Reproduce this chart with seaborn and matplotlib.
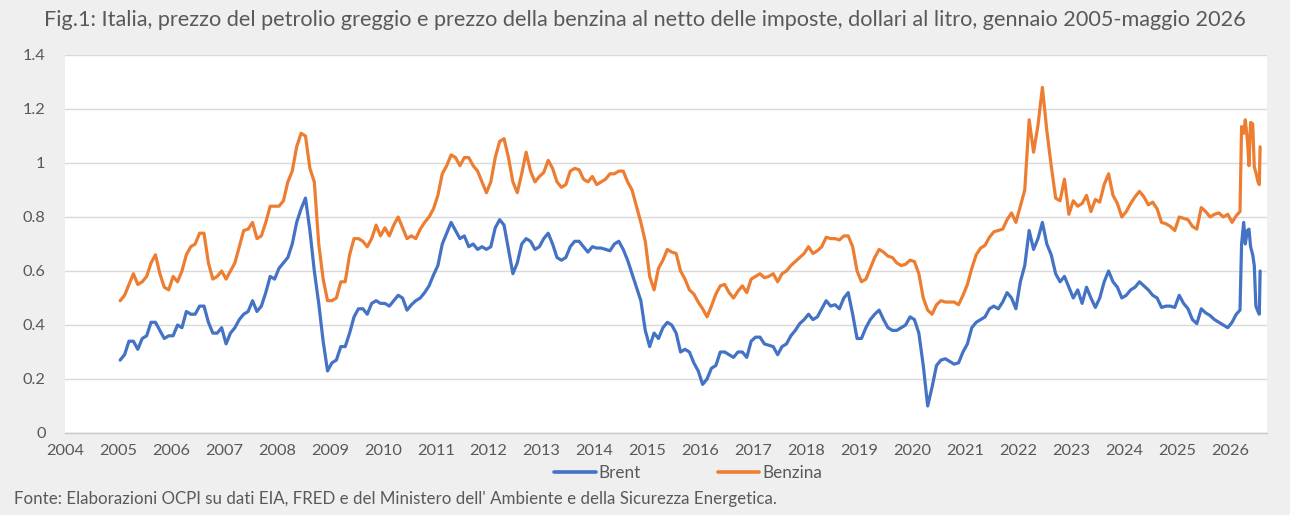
import numpy as np
import pandas as pd
import matplotlib
matplotlib.use("Agg")
import matplotlib.pyplot as plt
from matplotlib.lines import Line2D
import seaborn as sns

# monthly values (dollars per litre), Jan 2005 - Dec 2025
years = list(range(2005, 2026))

brent = [
    0.27, 0.29, 0.34, 0.34, 0.31, 0.35, 0.36, 0.41, 0.41, 0.38, 0.35, 0.36,  # 2005
    0.36, 0.40, 0.39, 0.45, 0.44, 0.44, 0.47, 0.47, 0.41, 0.37, 0.37, 0.39,  # 2006
    0.33, 0.37, 0.39, 0.42, 0.44, 0.45, 0.49, 0.45, 0.47, 0.52, 0.58, 0.57,  # 2007
    0.61, 0.63, 0.65, 0.70, 0.78, 0.83, 0.87, 0.75, 0.60, 0.48, 0.34, 0.23,  # 2008
    0.26, 0.27, 0.32, 0.32, 0.37, 0.43, 0.46, 0.46, 0.44, 0.48, 0.49, 0.48,  # 2009
    0.48, 0.47, 0.49, 0.51, 0.50, 0.455, 0.475, 0.49, 0.50, 0.52, 0.545, 0.585,  # 2010
    0.62, 0.70, 0.74, 0.78, 0.75, 0.72, 0.73, 0.69, 0.70, 0.68, 0.69, 0.68,  # 2011
    0.69, 0.76, 0.79, 0.77, 0.68, 0.59, 0.63, 0.70, 0.72, 0.71, 0.68, 0.69,  # 2012
    0.72, 0.74, 0.70, 0.65, 0.64, 0.65, 0.69, 0.71, 0.71, 0.69, 0.67, 0.69,  # 2013
    0.685, 0.685, 0.68, 0.675, 0.70, 0.71, 0.68, 0.64, 0.59, 0.54, 0.49, 0.38,  # 2014
    0.32, 0.37, 0.35, 0.39, 0.41, 0.40, 0.37, 0.30, 0.31, 0.30, 0.26, 0.23,  # 2015
    0.18, 0.20, 0.24, 0.25, 0.30, 0.30, 0.29, 0.28, 0.30, 0.30, 0.28, 0.34,  # 2016
    0.355, 0.355, 0.33, 0.325, 0.32, 0.29, 0.32, 0.33, 0.36, 0.38, 0.405, 0.42,  # 2017
    0.44, 0.42, 0.43, 0.46, 0.49, 0.47, 0.475, 0.46, 0.50, 0.52, 0.44, 0.35,  # 2018
    0.35, 0.39, 0.42, 0.44, 0.455, 0.42, 0.39, 0.38, 0.38, 0.39, 0.40, 0.43,  # 2019
    0.42, 0.37, 0.25, 0.10, 0.17, 0.25, 0.27, 0.275, 0.265, 0.255, 0.26, 0.30,  # 2020
    0.33, 0.39, 0.41, 0.42, 0.43, 0.46, 0.47, 0.46, 0.485, 0.52, 0.50, 0.46,  # 2021
    0.56, 0.62, 0.75, 0.68, 0.72, 0.78, 0.70, 0.66, 0.59, 0.56, 0.58, 0.54,  # 2022
    0.50, 0.53, 0.48, 0.54, 0.50, 0.465, 0.50, 0.56, 0.60, 0.56, 0.54, 0.50,  # 2023
    0.51, 0.53, 0.54, 0.56, 0.545, 0.53, 0.51, 0.50, 0.465, 0.47, 0.47, 0.465,  # 2024
    0.51, 0.48, 0.46, 0.42, 0.405, 0.46, 0.445, 0.435, 0.42, 0.41, 0.40, 0.39,  # 2025
]

benzina = [
    0.49, 0.51, 0.55, 0.59, 0.55, 0.56, 0.58, 0.63, 0.66, 0.59, 0.54, 0.53,  # 2005
    0.58, 0.56, 0.60, 0.66, 0.69, 0.70, 0.74, 0.74, 0.63, 0.57, 0.58, 0.60,  # 2006
    0.57, 0.60, 0.63, 0.69, 0.75, 0.755, 0.78, 0.72, 0.73, 0.78, 0.84, 0.84,  # 2007
    0.84, 0.86, 0.93, 0.97, 1.06, 1.11, 1.10, 0.98, 0.93, 0.70, 0.57, 0.49,  # 2008
    0.49, 0.50, 0.56, 0.56, 0.66, 0.72, 0.72, 0.71, 0.69, 0.72, 0.77, 0.73,  # 2009
    0.76, 0.73, 0.77, 0.80, 0.76, 0.72, 0.73, 0.72, 0.755, 0.78, 0.80, 0.83,  # 2010
    0.88, 0.96, 0.99, 1.03, 1.02, 0.99, 1.02, 1.02, 0.99, 0.97, 0.93, 0.89,  # 2011
    0.93, 1.02, 1.08, 1.09, 1.02, 0.93, 0.89, 0.96, 1.04, 0.97, 0.93, 0.95,  # 2012
    0.965, 1.01, 0.98, 0.93, 0.91, 0.92, 0.97, 0.98, 0.975, 0.94, 0.93, 0.95,  # 2013
    0.92, 0.93, 0.94, 0.96, 0.96, 0.97, 0.97, 0.93, 0.90, 0.84, 0.78, 0.71,  # 2014
    0.58, 0.53, 0.61, 0.64, 0.68, 0.67, 0.665, 0.60, 0.57, 0.53, 0.515, 0.485,  # 2015
    0.46, 0.43, 0.47, 0.515, 0.545, 0.55, 0.52, 0.50, 0.525, 0.545, 0.52, 0.57,  # 2016
    0.58, 0.59, 0.575, 0.58, 0.59, 0.56, 0.59, 0.60, 0.62, 0.635, 0.65, 0.665,  # 2017
    0.69, 0.665, 0.675, 0.69, 0.725, 0.72, 0.72, 0.715, 0.73, 0.73, 0.69, 0.60,  # 2018
    0.56, 0.57, 0.61, 0.65, 0.68, 0.67, 0.655, 0.65, 0.63, 0.62, 0.625, 0.64,  # 2019
    0.635, 0.59, 0.50, 0.455, 0.44, 0.475, 0.49, 0.485, 0.485, 0.485, 0.475, 0.51,  # 2020
    0.55, 0.61, 0.66, 0.685, 0.695, 0.725, 0.745, 0.75, 0.755, 0.79, 0.815, 0.78,  # 2021
    0.84, 0.90, 1.16, 1.04, 1.14, 1.28, 1.12, 0.99, 0.87, 0.86, 0.94, 0.81,  # 2022
    0.86, 0.84, 0.85, 0.88, 0.82, 0.865, 0.855, 0.92, 0.96, 0.88, 0.85, 0.80,  # 2023
    0.82, 0.85, 0.875, 0.895, 0.875, 0.845, 0.855, 0.83, 0.78, 0.775, 0.765, 0.75,  # 2024
    0.80, 0.795, 0.79, 0.765, 0.755, 0.835, 0.82, 0.80, 0.81, 0.815, 0.80, 0.81,  # 2025
]

# 2026 moves faster, so it is read at roughly weekly steps (decimal years)
tail_x = [2026.04, 2026.12, 2026.19, 2026.22, 2026.26, 2026.29, 2026.33, 2026.36,
          2026.39, 2026.43, 2026.46, 2026.49, 2026.53, 2026.555, 2026.57]
tail_brent = [0.41, 0.44, 0.455, 0.70, 0.78, 0.70, 0.75, 0.755,
              0.69, 0.66, 0.62, 0.47, 0.45, 0.44, 0.60]
tail_benzina = [0.78, 0.805, 0.82, 1.135, 1.11, 1.16, 1.085, 0.99,
                1.15, 1.145, 0.985, 0.965, 0.93, 0.92, 1.06]

series_names = ["Brent", "Benzina"]
colours = {"Brent": "#4472C4", "Benzina": "#ED7D31"}
y_ticks = [0, 0.2, 0.4, 0.6, 0.8, 1.0, 1.2, 1.4]
y_labels = ["0", "0.2", "0.4", "0.6", "0.8", "1", "1.2", "1.4"]
x_ticks = list(range(2004, 2027))

title = ("Fig.1: Italia, prezzo del petrolio greggio e prezzo della benzina al netto delle imposte, "
         "dollari al litro, gennaio 2005-maggio 2026")
source = ("Fonte: Elaborazioni OCPI su dati EIA, FRED e del Ministero dell' Ambiente "
          "e della Sicurezza Energetica.")

month_x = [y + (m + 0.5) / 12 for y in years for m in range(12)]
x_all = month_x + tail_x
df = pd.DataFrame({
    "anno": x_all + x_all,
    "prezzo": brent + tail_brent + benzina + tail_benzina,
    "serie": ["Brent"] * len(x_all) + ["Benzina"] * len(x_all),
})

sns.set_theme(style="white")
plt.rcParams["font.family"] = ["Lato", "DejaVu Sans"]
text_col = "#595959"

W, H = 1290, 515
fig = plt.figure(figsize=(W / 100, H / 100), dpi=100)
fig.patch.set_facecolor("#efefef")
ax = fig.add_axes([65 / W, (H - 433) / H, (1267 - 65) / W, (433 - 55) / H])
ax.set_facecolor("white")

sns.lineplot(data=df, x="anno", y="prezzo", hue="serie", palette=colours,
             estimator=None, linewidth=2.3, legend=False, ax=ax)

ax.set_xlim(2004, 2026.7)
ax.set_ylim(0, 1.4)
ax.set_xticks(x_ticks)
ax.set_xticklabels([str(t) for t in x_ticks])
ax.set_yticks(y_ticks)
ax.set_yticklabels(y_labels)
ax.set(xlabel="", ylabel="")
ax.grid(axis="y", color="#d9d9d9", linewidth=1)
ax.set_axisbelow(True)
for s in ["left", "right", "top"]:
    ax.spines[s].set_visible(False)
ax.spines["bottom"].set_color("#c8c8c8")
ax.spines["bottom"].set_linewidth(1)
ax.tick_params(axis="x", colors="#c8c8c8", length=5, width=1, direction="out",
               labelcolor=text_col, labelsize=11.8, pad=3)
ax.tick_params(axis="y", length=0, labelcolor=text_col, labelsize=11.8, pad=14)

handles = [Line2D([], [], color=colours[n], lw=2.6) for n in series_names]
fig.legend(handles, series_names, loc="center", bbox_to_anchor=(688 / W, 1 - 473 / H),
           ncol=2, frameon=False, handlelength=2.45, handletextpad=0.15,
           columnspacing=4.5, fontsize=12.3, labelcolor=text_col)

fig.text(0.5, 1 - 20 / H, title, ha="center", va="center", fontsize=15.6, color=text_col)
fig.text(14 / W, 1 - 499 / H, source, ha="left", va="center", fontsize=12.2, color=text_col)

fig.savefig("out.png", dpi=100, facecolor=fig.get_facecolor())
